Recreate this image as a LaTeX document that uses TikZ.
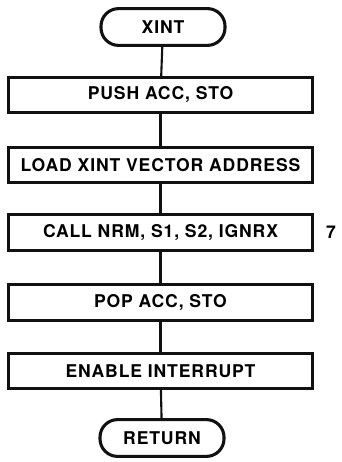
\documentclass[tikz,border=0pt]{standalone}
\usepackage{fontspec}
\setmainfont{TeX Gyre Heros}
\definecolor{fxline}{HTML}{111111}
\tikzset{
  fxcaixa/.style={draw=fxline,line width=2.2pt,minimum width=76.2mm,minimum height=8.8mm,inner sep=0pt,font=\fxfonte},
  fxterm/.style={draw=fxline,line width=2.2pt,rounded corners=4.4mm,minimum width=31mm,minimum height=9.2mm,inner sep=0pt,font=\fxfonte},
  fxlig/.style={draw=fxline,line width=1.5pt},
  fxnota/.style={font=\fxfonte,inner sep=0pt},
}
\newcommand{\fxfonte}{\fontsize{12.5}{14}\selectfont\bfseries\addfontfeatures{LetterSpace=5}}

\begin{document}
\begin{tikzpicture}[x=0.25mm,y=-0.25mm]
  \useasboundingbox (0,0) rectangle (341,462);
  % inicio e fim
  \node[fxterm] (xint) at (163,27) {XINT};
  \node[fxterm] (ret) at (162,438) {RETURN};
  % passos
  \node[fxcaixa] (push) at (160.5,95) {PUSH ACC, STO};
  \node[fxcaixa] (load) at (160.5,165) {LOAD XINT VECTOR ADDRESS};
  \node[fxcaixa] (call) at (160.5,232.5) {CALL NRM, S1, S2, IGNRX};
  \node[fxcaixa] (pop) at (160.5,302.5) {POP ACC, STO};
  \node[fxcaixa] (ena) at (160.5,371) {ENABLE INTERRUPT};
  \node[fxnota] (ref) at (331,232.5) {7};
  % ligacoes
  \draw[fxlig] (xint) -- (push);
  \draw[fxlig] (push) -- (load);
  \draw[fxlig] (load) -- (call);
  \draw[fxlig] (call) -- (pop);
  \draw[fxlig] (pop) -- (ena);
  \draw[fxlig] (ena) -- (ret);
\end{tikzpicture}
\end{document}
